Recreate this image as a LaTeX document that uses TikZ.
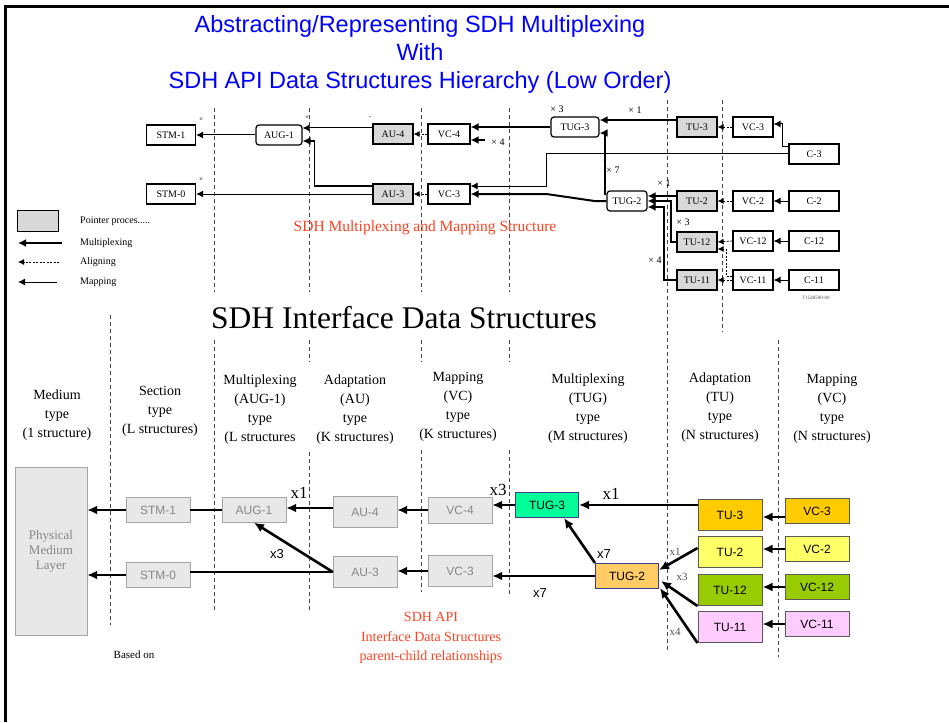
\documentclass[tikz,border=0pt]{standalone}
\usepackage{fontspec}
\setmainfont{Liberation Serif}
\setsansfont{Liberation Sans}
\usetikzlibrary{arrows.meta, positioning, calc}

\definecolor{titleblue}{RGB}{0, 0, 255}
\definecolor{sdhred}{RGB}{255, 64, 32}
\definecolor{ptrgrey}{RGB}{217, 217, 217}
\definecolor{apigrey}{RGB}{232, 232, 232}
\definecolor{apiedge}{RGB}{165, 165, 165}
\definecolor{apitext}{RGB}{135, 135, 135}
\definecolor{tuggreen}{RGB}{0, 255, 153}
\definecolor{tugorange}{RGB}{255, 204, 102}
\definecolor{tugedge}{RGB}{60, 60, 150}
\definecolor{tuorange}{RGB}{255, 204, 0}
\definecolor{tuyellow}{RGB}{255, 255, 102}
\definecolor{tugreen}{RGB}{153, 204, 0}
\definecolor{tupink}{RGB}{255, 204, 255}
\definecolor{tuedge}{RGB}{90, 90, 90}
\definecolor{sepgrey}{RGB}{70, 70, 70}
\definecolor{lblgrey}{RGB}{80, 80, 80}

\tikzset{
  itubox/.style={draw, line width=1.2pt, fill=white, minimum width=40pt, minimum height=20pt, inner sep=1pt, font=\fontsize{10}{12}\selectfont},
  itugrey/.style={itubox, fill=ptrgrey},
  iturnd/.style={itubox, rounded corners=3pt},
  itulbl/.style={font=\fontsize{10}{12}\selectfont, inner sep=0pt},
  legtext/.style={font=\fontsize{10}{12}\selectfont, inner sep=0pt},
  muxarrow/.style={line width=2pt, -{Latex[length=8pt,width=8pt]}},
  maparrow/.style={line width=1pt, -{Latex[length=7pt,width=7pt]}},
  alignarrow/.style={line width=0.8pt, dash pattern=on 2pt off 1.5pt, -{Latex[length=6pt,width=6pt]}},
  colsep/.style={sepgrey, line width=0.8pt, dash pattern=on 4pt off 3pt},
  colhead/.style={font=\fontsize{14}{19}\selectfont, align=center},
  apibox/.style={draw=apiedge, fill=apigrey, text=apitext, minimum width=64pt, minimum height=25pt, font=\sffamily\fontsize{12}{14}\selectfont},
  tubox/.style={draw=tuedge, line width=1pt, minimum width=64pt, minimum height=31pt, font=\sffamily\fontsize{12}{14}\selectfont},
  vcbox/.style={tubox, minimum height=25pt},
  tugbox/.style={draw=tugedge, line width=1pt, minimum width=63pt, minimum height=25pt, font=\sffamily\fontsize{12}{14}\selectfont},
  apiarrow/.style={line width=2.6pt, -{Latex[length=10pt,width=9pt]}},
  apiline/.style={line width=2.6pt},
  bigx/.style={font=\fontsize{17}{20}\selectfont},
  sansx/.style={font=\sffamily\fontsize{13}{15}\selectfont},
  smallx/.style={font=\fontsize{11}{13}\selectfont, text=lblgrey}
}

\begin{document}
\begin{tikzpicture}[x=1pt, y=-1pt]
  \useasboundingbox (0,0) rectangle (949,722);

  % Frame
  \draw[line width=3pt] (5.5,722) -- (5.5,7) -- (949,7);

  % Title
  \node[font=\sffamily\fontsize{23.5}{28}\selectfont, text=titleblue, align=center] (title) at (420,54) {Abstracting/Representing SDH Multiplexing\\With\\SDH API Data Structures Hierarchy (Low Order)};

  % Column separators
  \draw[colsep] (214,108) -- (214,292);
  \draw[colsep] (309,108) -- (309,292);
  \draw[colsep] (421,108) -- (421,292);
  \draw[colsep] (509,108) -- (509,292);
  \draw[colsep] (667,100) -- (667,650);
  \draw[colsep] (722,100) -- (722,332);
  \draw[colsep] (110,315) -- (110,625);
  \draw[colsep] (214,340) -- (214,610);
  \draw[colsep] (309,340) -- (309,362);
  \draw[colsep] (309,452) -- (309,610);
  \draw[colsep] (421,340) -- (421,362);
  \draw[colsep] (421,450) -- (421,592);
  \draw[colsep] (509,340) -- (509,362);
  \draw[colsep] (509,450) -- (509,597);
  \draw[colsep] (778,340) -- (778,657);

  % SDH multiplexing structure
  \node[itubox, minimum width=49pt] (stm1) at (171,135) {STM-1};
  \node[itubox, minimum width=49pt] (stm0) at (171,194) {STM-0};
  \node[iturnd, minimum width=46pt] (aug1) at (279,135) {AUG-1};
  \node[itugrey] (au4) at (393,134) {AU-4};
  \node[itubox, minimum width=42pt] (vc4) at (449,134) {VC-4};
  \node[itugrey] (au3) at (393,194) {AU-3};
  \node[itubox, minimum width=42pt] (vc3) at (449,194) {VC-3};
  \node[iturnd, minimum width=48pt] (tug3) at (575,127) {TUG-3};
  \node[itugrey] (tu3) at (697,127) {TU-3};
  \node[itubox] (vc3r) at (753,127) {VC-3};
  \node[itubox, minimum width=50pt] (c3) at (814,154) {C-3};
  \node[iturnd] (tug2) at (627,201) {TUG-2};
  \node[itugrey] (tu2) at (697,201) {TU-2};
  \node[itubox] (vc2) at (753,201) {VC-2};
  \node[itubox, minimum width=50pt] (c2) at (814,201) {C-2};
  \node[itugrey] (tu12) at (697,242) {TU-12};
  \node[itubox] (vc12) at (753,241) {VC-12};
  \node[itubox, minimum width=50pt] (c12) at (814,241) {C-12};
  \node[itugrey] (tu11) at (697,280) {TU-11};
  \node[itubox] (vc11) at (753,280) {VC-11};
  \node[itubox, minimum width=50pt] (c11) at (814,280) {C-11};

  \draw[maparrow] (aug1.west) -- (stm1.east);
  \draw[maparrow] (au3.west) -- (stm0.east);
  \draw[maparrow] ($(au4.west)+(0,-6)$) coordinate (au4in) -- (au4in -| aug1.east);
  \draw[line width=1.5pt, -{Latex[length=8pt,width=8pt]}] ($(au3.west)+(0,-8)$) -| ($(aug1.east)+(12,6)$) -- ($(aug1.east)+(0,6)$);
  \draw[alignarrow] (vc4.west) -- (au4.east);
  \draw[alignarrow] (vc3.west) -- (au3.east);
  \draw[muxarrow] (tug3.west) -- (tug3.west -| vc4.east);
  \draw[muxarrow] ($(vc4.east)+(14,6)$) -- ($(vc4.east)+(0,6)$);
  \draw[maparrow] (c3.west) -- ++(-242,0) |- ($(vc3.east)+(0,-8)$);
  \draw[muxarrow] (tug2.west) -- ++(-12,0) -- ++(-48,-7) -- (vc3.east);
  \draw[muxarrow] ($(tu3.west)+(0,-7)$) coordinate (tu3out) -- (tu3out -| tug3.east);
  \draw[muxarrow] ($(tug2.west)+(0,-7)$) -- ++(-1,0) |- ($(tug3.east)+(0,6)$);
  \draw[alignarrow] (vc3r.west) -- (tu3.east);
  \draw[maparrow] ($(c3.west)+(0,-7)$) -- ++(-6,0) |- ($(vc3r.east)+(0,-3)$);
  \draw[muxarrow] ($(tu2.west)+(0,-5)$) coordinate (tu2out) -- (tu2out -| tug2.east);
  \draw[muxarrow] (tu12.west) -- ++(-5,0) |- (tug2.east);
  \draw[muxarrow] (tu11.west) -- ++(-12,0) |- ($(tug2.east)+(0,6)$);
  \draw[alignarrow] (vc2.west) -- (tu2.east);
  \draw[alignarrow] (vc12.west) -- (tu12.east);
  \draw[alignarrow] ($(vc11.west)+(0,-4)$) -- ++(-6,0) |- ($(tu12.east)+(0,7)$);
  \draw[alignarrow] (vc11.west) -- (tu11.east);
  \draw[maparrow] (c2.west) -- (vc2.east);
  \draw[maparrow] (c12.west) -- (vc12.east);
  \draw[maparrow] (c11.west) -- (vc11.east);

  \node[itulbl] at (557,109) {× 3};
  \node[itulbl] at (635,110) {× 1};
  \node[itulbl] at (498,142) {× 4};
  \node[itulbl] at (613,170) {× 7};
  \node[itulbl] at (664,183) {× 1};
  \node[itulbl] at (683,222) {× 3};
  \node[itulbl] at (655,260) {× 4};
  \node[itulbl, font=\fontsize{7}{8}\selectfont] at (201,120) {×};
  \node[itulbl, font=\fontsize{7}{8}\selectfont] at (201,180) {×};
  \node[itulbl, font=\fontsize{7}{8}\selectfont] at (307,118) {×};
  \node[itulbl, font=\fontsize{7}{8}\selectfont] at (370,118) {-};
  \node[itulbl, font=\fontsize{5}{6}\selectfont, text=lblgrey] at (816,298) {T1540590-00};

  % Legend
  \node[itugrey, minimum width=41pt, minimum height=21pt] (ptrkey) at (38,221) {};
  \node[legtext, anchor=west] (lptr) at (80,221) {Pointer proces.....};
  \node[legtext, anchor=west] (lmux) at (80,243) {Multiplexing};
  \node[legtext, anchor=west] (lalign) at (80,262) {Aligning};
  \node[legtext, anchor=west] (lmap) at (80,282) {Mapping};
  \draw[muxarrow] ($(lmux.west)+(-18,0)$) -- ++(-44,0);
  \draw[alignarrow] ($(lalign.west)+(-21,0)$) -- ++(-41,0);
  \draw[maparrow] ($(lmap.west)+(-23,0)$) -- ++(-39,0);

  \node[font=\fontsize{15.5}{18}\selectfont, text=sdhred] (itucap) at (425,228) {SDH Multiplexing and Mapping Structure};

  % Interface data structures
  \node[font=\fontsize{31.5}{36}\selectfont] (ifhead) at (404,318) {SDH Interface Data Structures};

  \node[colhead] (hmed) at (57,415) {Medium\\type\\(1 structure)};
  \node[colhead] (hsec) at (160,411) {Section\\type\\(L structures)};
  \node[colhead] (haug) at (260,410) {Multiplexing\\(AUG-1)\\type\\(L structures};
  \node[colhead] (hau) at (355,410) {Adaptation\\(AU)\\type\\(K structures)};
  \node[colhead] (hvck) at (458,407) {Mapping\\(VC)\\type\\(K structures)};
  \node[colhead] (htug) at (588,409) {Multiplexing\\(TUG)\\type\\(M structures)};
  \node[colhead] (htu) at (720,408) {Adaptation\\(TU)\\type\\(N structures)};
  \node[colhead] (hvcn) at (832,409) {Mapping\\(VC)\\type\\(N structures)};

  \node[apibox, minimum width=72pt, minimum height=168pt, align=center, font=\fontsize{13}{15}\selectfont] (pml) at (51,551) {Physical\\Medium\\Layer};
  \node[apibox] (stm1b) at (158,510) {STM-1};
  \node[apibox] (stm0b) at (158,575) {STM-0};
  \node[apibox] (aug1b) at (254,510) {AUG-1};
  \node[apibox, minimum height=31pt] (au4b) at (365,512) {AU-4};
  \node[apibox, minimum height=31pt] (au3b) at (365,572) {AU-3};
  \node[apibox, minimum height=26pt] (vc4b) at (460,510) {VC-4};
  \node[apibox, minimum height=31pt] (vc3b) at (460,571) {VC-3};
  \node[tugbox, fill=tuggreen] (tug3b) at (547,505) {TUG-3};
  \node[tugbox, fill=tugorange] (tug2b) at (627,576) {TUG-2};
  \node[tubox, fill=tuorange] (tu3b) at (730,515) {TU-3};
  \node[tubox, fill=tuyellow] (tu2b) at (730,552) {TU-2};
  \node[tubox, fill=tugreen] (tu12b) at (730,590) {TU-12};
  \node[tubox, fill=tupink] (tu11b) at (730,627) {TU-11};
  \node[vcbox, fill=tuorange] (vc3c) at (817,511) {VC-3};
  \node[vcbox, fill=tuyellow] (vc2b) at (817,549) {VC-2};
  \node[vcbox, fill=tugreen] (vc12b) at (817,587) {VC-12};
  \node[vcbox, fill=tupink] (vc11b) at (817,624) {VC-11};

  \draw[apiarrow] (stm1b.west) -- (stm1b.west -| pml.east);
  \draw[apiarrow] (stm0b.west) -- (stm0b.west -| pml.east);
  \draw[apiline] (aug1b.west) -- (stm1b.east);
  \draw[apiline] (au3b.west) -- (au3b.west -| stm0b.east);
  \draw[apiarrow] ($(au4b.west)+(0,-4)$) coordinate (au4bout) -- (au4bout -| aug1b.east);
  \draw[apiarrow] (au3b.west) -- (aug1b.south);
  \draw[apiarrow] (vc4b.west) -- (vc4b.west -| au4b.east);
  \draw[apiarrow] (vc3b.west) -- (vc3b.west -| au3b.east);
  \draw[apiarrow] (tug3b.west) -- (tug3b.west -| vc4b.east);
  \draw[apiarrow] (tu3b.west |- tug3b.east) -- (tug3b.east);
  \draw[apiarrow] (tug2b.north west) -- ($(tug3b.south)+(17,0)$);
  \draw[apiarrow] (tug2b.west) -- (tug2b.west -| vc3b.east);
  \draw[apiarrow] ($(tu2b.west)+(0,-4)$) -- ($(tug2b.east)+(0,-6)$);
  \draw[apiarrow] (tu12b.south west) -- ($(tug2b.east)+(2,5)$);
  \draw[apiarrow] (tu11b.south west) -- ($(tug2b.south east)+(1,-1)$);
  \draw[apiarrow] ($(vc3c.west)+(0,6)$) coordinate (vc3cout) -- (vc3cout -| tu3b.east);
  \draw[apiarrow] (vc2b.west) -- (vc2b.west -| tu2b.east);
  \draw[apiarrow] (vc12b.west) -- (vc12b.west -| tu12b.east);
  \draw[apiarrow] (vc11b.west) -- (vc11b.west -| tu11b.east);

  \node[bigx] at (299,493) {x1};
  \node[sansx] at (277,554) {x3};
  \node[bigx] at (498,490) {x3};
  \node[bigx] at (611,494) {x1};
  \node[sansx] at (604,554) {x7};
  \node[sansx] at (540,593) {x7};
  \node[smallx] at (675,552) {x1};
  \node[smallx] at (682,577) {x3};
  \node[smallx] at (675,632) {x4};

  \node[font=\fontsize{14}{19.5}\selectfont, text=sdhred, align=center] (apicap) at (431,638) {SDH API\\Interface Data Structures\\parent-child relationships};
  \node[font=\fontsize{11}{13}\selectfont] (based) at (134,655) {Based on};
\end{tikzpicture}
\end{document}
